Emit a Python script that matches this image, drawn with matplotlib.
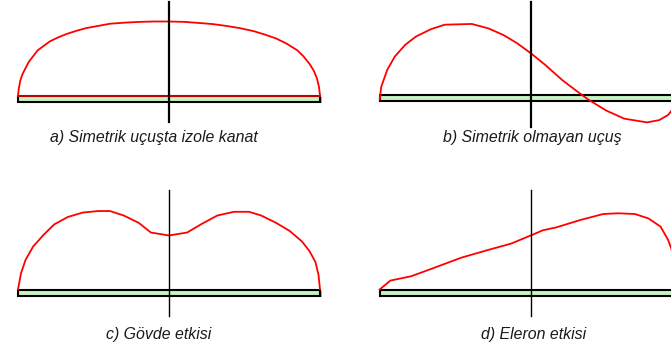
import matplotlib

matplotlib.use("Agg")

import matplotlib.pyplot as plt
from matplotlib.patches import Rectangle

FIG_W, FIG_H = 671, 347
DPI = 100

# spanwise station (-1 = left tip, 1 = right tip) and lift relative to panel a peak
ETA_A = [-1.0, -0.995, -0.985, -0.97, -0.95, -0.93, -0.9, -0.87, -0.83, -0.79,
         -0.74, -0.68, -0.62, -0.55, -0.47, -0.39, -0.29, -0.19, -0.1, 0.0,
         0.1, 0.2, 0.29, 0.38, 0.47, 0.56, 0.64, 0.71, 0.78, 0.85,
         0.89, 0.93, 0.96, 0.98, 0.993, 1.0]
LIFT_A = [0.0, 0.09, 0.2, 0.29, 0.37, 0.45, 0.53, 0.61, 0.67, 0.73,
          0.78, 0.83, 0.87, 0.91, 0.94, 0.97, 0.985, 0.995, 1.0, 1.0,
          0.995, 0.98, 0.965, 0.94, 0.91, 0.87, 0.82, 0.77, 0.7, 0.61,
          0.53, 0.43, 0.33, 0.23, 0.12, 0.0]

ETA_B = [-1.0, -0.99, -0.95, -0.9, -0.83, -0.76, -0.66, -0.57, -0.39, -0.28,
         -0.18, -0.09, 0.01, 0.1, 0.21, 0.32, 0.38, 0.5, 0.62, 0.77,
         0.85, 0.91, 0.96, 1.0]
LIFT_B = [-0.06, 0.11, 0.34, 0.52, 0.68, 0.79, 0.89, 0.95, 0.96, 0.9,
          0.81, 0.7, 0.55, 0.4, 0.2, 0.03, -0.06, -0.21, -0.32, -0.37,
          -0.34, -0.27, -0.14, -0.05]

ETA_C = [-1.0, -0.98, -0.95, -0.9, -0.83, -0.76, -0.67, -0.57, -0.47, -0.39,
         -0.3, -0.2, -0.12, 0.0, 0.12, 0.22, 0.32, 0.43, 0.53, 0.61,
         0.71, 0.8, 0.88, 0.93, 0.97, 0.99, 1.0]
LIFT_C = [0.0, 0.22, 0.4, 0.58, 0.74, 0.88, 0.98, 1.04, 1.06, 1.06,
          1.0, 0.9, 0.77, 0.73, 0.77, 0.89, 1.0, 1.05, 1.05, 1.0,
          0.9, 0.79, 0.65, 0.52, 0.37, 0.2, 0.0]

ETA_D = [-1.0, -0.93, -0.79, -0.63, -0.46, -0.29, -0.13, 0.0, 0.08, 0.17,
         0.33, 0.48, 0.58, 0.69, 0.78, 0.86, 0.91, 0.93, 0.97, 1.0]
LIFT_D = [0.0, 0.12, 0.18, 0.3, 0.43, 0.53, 0.62, 0.73, 0.8, 0.84,
          0.94, 1.02, 1.03, 1.02, 0.96, 0.85, 0.67, 0.56, 0.29, 0.0]

CAPTIONS = [
    "a) Simetrik uçuşta izole kanat",
    "b) Simetrik olmayan uçuş",
    "c) Gövde etkisi",
    "d) Eleron etkisi",
]

# panel layout in pixels: box (left, top, right, bottom), wing centre x, wing top y,
# vertical axis extent (top, bottom), caption centre, closed outline flag
PANELS = [
    dict(box=(0, 0, 335, 173), xc=169, yb=95.5, axis=(2, 122), cap=(154, 137),
         eta=ETA_A, lift=LIFT_A, closed=True, axis_lw=1.6),
    dict(box=(335, 0, 671, 173), xc=530.7, yb=95, axis=(2, 127), cap=(532, 137),
         eta=ETA_B, lift=LIFT_B, closed=False, axis_lw=1.6),
    dict(box=(0, 173, 335, 347), xc=169, yb=289.5, axis=(190, 316), cap=(159, 335),
         eta=ETA_C, lift=LIFT_C, closed=False, axis_lw=1.0),
    dict(box=(335, 173, 671, 347), xc=530.7, yb=289.5, axis=(190, 316), cap=(534, 335),
         eta=ETA_D, lift=LIFT_D, closed=False, axis_lw=1.0),
]

SPAN_PX = 151.0   # pixels per unit half-span
LIFT_PX = 74.0    # pixels per unit lift
BAR_PX = 6.0      # wing bar thickness

plt.rcParams["font.family"] = ["Liberation Sans", "DejaVu Sans"]

fig = plt.figure(figsize=(FIG_W / DPI, FIG_H / DPI), dpi=DPI)
fig.patch.set_facecolor("white")

for panel, caption in zip(PANELS, CAPTIONS):
    left, top, right, bottom = panel["box"]
    ax = fig.add_axes([left / FIG_W, 1 - bottom / FIG_H,
                       (right - left) / FIG_W, (bottom - top) / FIG_H])
    ax.set_xlim((left - panel["xc"]) / SPAN_PX, (right - panel["xc"]) / SPAN_PX)
    ax.set_ylim((panel["yb"] - bottom) / LIFT_PX, (panel["yb"] - top) / LIFT_PX)
    ax.axis("off")

    bar_h = BAR_PX / LIFT_PX
    ax.add_patch(Rectangle((-1.0 + 1.5 / SPAN_PX, -bar_h - 1.2 / LIFT_PX), 2.0, bar_h,
                           facecolor="#b0b0b0", edgecolor="none", zorder=1))
    ax.add_patch(Rectangle((-1.0, -bar_h), 2.0, bar_h, facecolor="#c6f2c6",
                           edgecolor="black", linewidth=1.5, zorder=2))

    if panel["closed"]:
        ax.plot([-1.0, 1.0], [0.0, 0.0], color="red", linewidth=1.1, zorder=3)
    ax.plot(panel["eta"], panel["lift"], color="red", linewidth=1.3, zorder=4)

    ax_top, ax_bottom = panel["axis"]
    ax.plot([0, 0], [(panel["yb"] - ax_top) / LIFT_PX, (panel["yb"] - ax_bottom) / LIFT_PX],
            color="black", linewidth=panel["axis_lw"], zorder=5)

    cap_x, cap_y = panel["cap"]
    fig.text(cap_x / FIG_W, 1 - cap_y / FIG_H, caption, ha="center", va="center",
             fontsize=11.4, style="italic", color="#1a1a1a")

fig.savefig("out.png", dpi=DPI, facecolor="white")
